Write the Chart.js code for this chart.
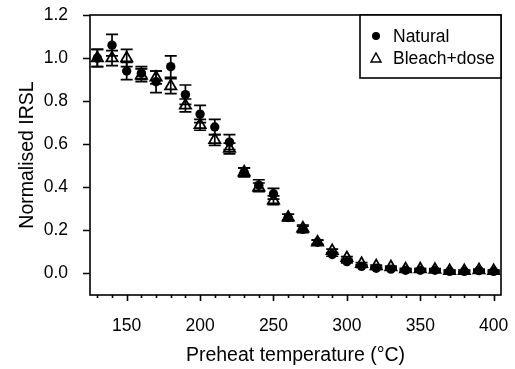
<!DOCTYPE html>
<html>
<head>
<meta charset="utf-8">
<script src="https://cdn.jsdelivr.net/npm/chart.js@4.4.1/dist/chart.umd.min.js"></script>
<style>
  html, body { margin: 0; padding: 0; background: #fff; }
  #wrap { width: 515px; height: 369px; }
</style>
</head>
<body>
<div id="wrap"><canvas id="chart"></canvas></div>
<script>
// Preheat plateau data
const temps = [130, 140, 150, 160, 170, 180, 190, 200, 210, 220, 230, 240, 250, 260,
               270, 280, 290, 300, 310, 320, 330, 340, 350, 360, 370, 380, 390, 400];

const natural    = [1.00, 1.06, 0.94, 0.93, 0.89, 0.96, 0.83, 0.74, 0.68, 0.61, 0.47, 0.41, 0.37, 0.26,
                    0.205, 0.145, 0.088, 0.055, 0.033, 0.024, 0.02, 0.015, 0.015, 0.015, 0.01, 0.01, 0.013, 0.01];
const naturalErr = [0.04, 0.05, 0.04, 0.03, 0.05, 0.05, 0.045, 0.04, 0.035, 0.035, 0.02, 0.025, 0.025, 0.015,
                    0.015, 0.01, 0.008, 0.006, 0.005, 0.005, 0.004, 0.004, 0.004, 0.004, 0.004, 0.004, 0.004, 0.004];

const bleach     = [1.00, 1.00, 1.00, 0.92, 0.91, 0.87, 0.78, 0.69, 0.62, 0.58, 0.47, 0.40, 0.34, 0.26,
                    0.21, 0.145, 0.105, 0.072, 0.045, 0.034, 0.03, 0.02, 0.02, 0.018, 0.012, 0.012, 0.016, 0.012];
const bleachErr  = [0.04, 0.035, 0.04, 0.03, 0.03, 0.035, 0.03, 0.025, 0.025, 0.025, 0.02, 0.02, 0.02, 0.015,
                    0.015, 0.01, 0.008, 0.006, 0.005, 0.005, 0.004, 0.004, 0.004, 0.004, 0.004, 0.004, 0.004, 0.004];

const xTickLabels = [150, 200, 250, 300, 350, 400];
const xMinorTicks = [130, 140, 150, 160, 170, 180, 190, 200, 210, 220, 230, 240, 250, 260,
                     270, 280, 290, 300, 310, 320, 330, 340, 350, 360, 370, 380, 390, 400];
const yTickLabels = [0, 0.2, 0.4, 0.6, 0.8, 1.0, 1.2];

const FONT = 'Liberation Sans, Arial, Helvetica, sans-serif';
const INK = '#000';

// error bars, drawn with the chart's own scales
const errorBars = {
  id: 'errorBars',
  beforeDatasetsDraw(chart) {
    const { ctx, scales: { x, y } } = chart;
    const sets = [[natural, naturalErr], [bleach, bleachErr]];
    ctx.save();
    ctx.strokeStyle = INK;
    ctx.lineWidth = 1.7;
    sets.forEach(([vals, errs]) => {
      vals.forEach((v, i) => {
        const px = x.getPixelForValue(temps[i]);
        const top = y.getPixelForValue(v + errs[i]);
        const bot = y.getPixelForValue(v - errs[i]);
        ctx.beginPath();
        ctx.moveTo(px, top); ctx.lineTo(px, bot);
        ctx.moveTo(px - 6, top); ctx.lineTo(px + 6, top);
        ctx.moveTo(px - 6, bot); ctx.lineTo(px + 6, bot);
        ctx.stroke();
      });
    });
    ctx.restore();
  }
};

// frame box + outward ticks (major/minor on x)
const frameTicks = {
  id: 'frameTicks',
  afterDraw(chart) {
    const { ctx, chartArea: a, scales: { x, y } } = chart;
    ctx.save();
    ctx.strokeStyle = INK;
    ctx.lineWidth = 1.6;
    ctx.strokeRect(a.left, a.top, a.right - a.left, a.bottom - a.top);
    ctx.beginPath();
    yTickLabels.forEach(v => {
      const py = Math.round(y.getPixelForValue(v)) + 0.5;
      ctx.moveTo(a.left, py); ctx.lineTo(a.left - 7, py);
    });
    xMinorTicks.forEach(t => {
      const px = Math.round(x.getPixelForValue(t)) + 0.5;
      const len = t % 50 === 0 ? 6 : 3;
      ctx.moveTo(px, a.bottom); ctx.lineTo(px, a.bottom + len);
    });
    ctx.stroke();
    ctx.restore();
  }
};

// boxed legend in the top-right corner
const boxLegend = {
  id: 'boxLegend',
  afterDraw(chart) {
    const { ctx, chartArea: a } = chart;
    const L = 360, T = a.top, R = a.right, B = 78;
    ctx.save();
    ctx.fillStyle = '#fff';
    ctx.fillRect(L, T, R - L, B - T);
    ctx.strokeStyle = INK;
    ctx.lineWidth = 1.6;
    ctx.strokeRect(L, T, R - L, B - T);

    ctx.fillStyle = INK;
    ctx.beginPath();
    ctx.arc(376, 36, 4, 0, Math.PI * 2);
    ctx.fill();

    ctx.lineWidth = 1.5;
    ctx.beginPath();
    ctx.moveTo(376, 53); ctx.lineTo(381, 62); ctx.lineTo(371, 62); ctx.closePath();
    ctx.stroke();

    ctx.font = '17.5px ' + FONT;
    ctx.textBaseline = 'middle';
    ctx.fillText('Natural', 393, 37);
    ctx.fillText('Bleach+dose', 393, 59);
    ctx.restore();
  }
};

new Chart(document.getElementById('chart'), {
  type: 'scatter',
  data: {
    datasets: [
      {
        label: 'Natural',
        data: temps.map((t, i) => ({ x: t, y: natural[i] })),
        pointStyle: 'circle',
        pointRadius: 4.7,
        backgroundColor: INK,
        borderColor: INK,
        borderWidth: 0
      },
      {
        label: 'Bleach+dose',
        data: temps.map((t, i) => ({ x: t, y: bleach[i] })),
        pointStyle: 'triangle',
        pointRadius: 6.5,
        backgroundColor: 'rgba(0,0,0,0)',
        borderColor: INK,
        borderWidth: 1.8
      }
    ]
  },
  options: {
    responsive: true,
    maintainAspectRatio: false,
    animation: false,
    layout: { padding: { top: 15, right: 14, left: 0, bottom: 0 } },
    plugins: {
      legend: { display: false },
      tooltip: { enabled: false }
    },
    scales: {
      x: {
        type: 'linear',
        min: 125,
        max: 405,
        afterBuildTicks: s => { s.ticks = xTickLabels.map(v => ({ value: v })); },
        afterFit: s => { s.height = 74; s.paddingLeft = 0; s.paddingRight = 0; },
        grid: { display: false, drawTicks: false },
        border: { display: false },
        ticks: { color: INK, padding: 21, maxRotation: 0, font: { family: FONT, size: 17.5 } },
        title: {
          display: true,
          text: 'Preheat temperature (°C)',
          color: INK,
          padding: { top: 0, bottom: 2 },
          font: { family: FONT, size: 19.5 }
        }
      },
      y: {
        type: 'linear',
        min: -0.1,
        max: 1.2,
        afterBuildTicks: s => { s.ticks = yTickLabels.map(v => ({ value: v })); },
        afterFit: s => { s.width = 90; s.paddingTop = 0; s.paddingBottom = 0; },
        grid: { display: false, drawTicks: false },
        border: { display: false },
        ticks: {
          color: INK,
          padding: 22,
          font: { family: FONT, size: 17.5 },
          callback: v => v.toFixed(1)
        },
        title: {
          display: true,
          text: 'Normalised IRSL',
          color: INK,
          padding: { top: 16, bottom: 0 },
          font: { family: FONT, size: 19.5 }
        }
      }
    }
  },
  plugins: [errorBars, frameTicks, boxLegend]
});
</script>
</body>
</html>
